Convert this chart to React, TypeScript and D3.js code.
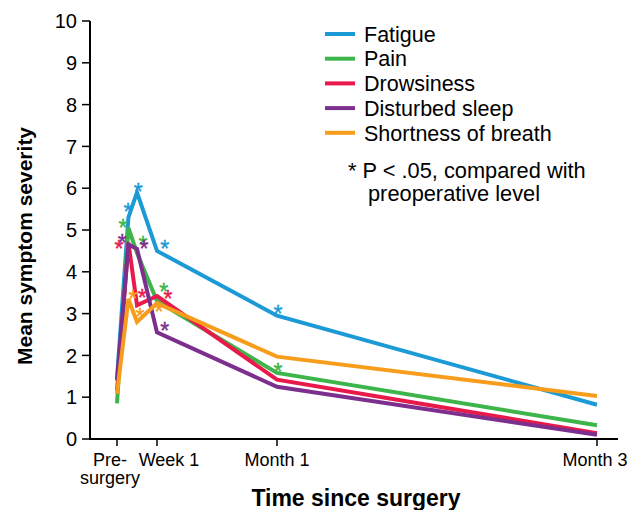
import React from 'react';
import * as d3 from 'd3';

// time in days since surgery (pre-surgery = 0)
const days = [0, 2, 3.5, 7, 30, 90];
const tickDays = [0, 7, 30, 90];
const tickLabels = [['Pre-', 'surgery'], ['Week 1'], ['Month 1'], ['Month 3']];

const seriesNames = ['Fatigue', 'Pain', 'Drowsiness', 'Disturbed sleep', 'Shortness of breath'];
const seriesColors = ['#1b9ad6', '#3db54a', '#e8194b', '#7d2f8e', '#f89c1c'];

const fatigue = [1.45, 5.3, 5.9, 4.5, 2.95, 0.82];
const pain = [0.85, 5.05, 4.45, 3.3, 1.58, 0.33];
const drowsiness = [1.15, 4.7, 3.2, 3.42, 1.42, 0.14];
const disturbedSleep = [1.4, 4.65, 4.55, 2.55, 1.25, 0.1];
const shortnessOfBreath = [1.08, 3.35, 2.8, 3.25, 1.97, 1.03];

const allSeries = [fatigue, pain, drowsiness, disturbedSleep, shortnessOfBreath];

// significance markers: [series index, day, value]
const stars: [number, number, number][] = [
  [0, 1.9, 5.55], [0, 3.7, 6.03], [0, 8.5, 4.67], [0, 30.2, 3.11],
  [1, 1.05, 5.17], [1, 4.55, 4.76], [1, 8.3, 3.64], [1, 30.2, 1.72],
  [2, 0.35, 4.67], [2, 4.4, 3.49], [2, 9.1, 3.47],
  [3, 0.9, 4.81], [3, 4.7, 4.67], [3, 8.5, 2.7],
  [4, 2.8, 3.47], [4, 4.0, 3.04], [4, 7.4, 3.16],
];

const yTicks = d3.range(0, 11);

export default function App() {
  const width = 627;
  const height = 510;
  const left = 90;
  const top = 21;
  const bottom = 439;
  const right = 618;

  const x = d3.scaleLinear().domain(tickDays).range([117, 157, 277, 597]);
  const y = d3.scaleLinear().domain([0, 10]).range([bottom, top]);

  const line = d3.line<number>()
    .x((_, i) => x(days[i]))
    .y(d => y(d));

  const font = 'Liberation Sans, Arial, Helvetica, sans-serif';
  // label shifts so that the crowded early labels don't collide
  const labelShift = [-7, 12, 0, -2];

  return (
    <svg width={width} height={height} style={{ position: 'absolute', left: 0, top: 0 }} fontFamily={font}>
      <rect width={width} height={height} fill="#fff" />
      {/* y axis */}
      <line x1={left} x2={left} y1={top} y2={bottom} stroke="#000" strokeWidth={2} />
      {yTicks.map(t => (
        <g key={t}>
          <line x1={left - 8} x2={left} y1={y(t)} y2={y(t)} stroke="#000" strokeWidth={1.5} />
          <text x={77} y={y(t)} dy="0.36em" textAnchor="end" fontSize={20}>{t}</text>
        </g>
      ))}
      {/* x axis */}
      <line x1={left - 1} x2={right} y1={bottom} y2={bottom} stroke="#000" strokeWidth={2} />
      {tickDays.map((d, i) => (
        <g key={d}>
          <line x1={x(d)} x2={x(d)} y1={bottom} y2={bottom + 7} stroke="#000" strokeWidth={1.5} />
          {tickLabels[i].map((s, j) => (
            <text key={j} x={x(d) + labelShift[i]} y={466 + j * 18} textAnchor="middle" fontSize={18}>{s}</text>
          ))}
        </g>
      ))}
      <text x={356} y={506} textAnchor="middle" fontSize={23} fontWeight="bold">Time since surgery</text>
      <text transform={`translate(32,246) rotate(-90)`} textAnchor="middle" fontSize={21} fontWeight="bold">Mean symptom severity</text>

      {/* series */}
      {allSeries.map((s, i) => (
        <path key={i} d={line(s) || ''} fill="none" stroke={seriesColors[i]} strokeWidth={4} strokeLinejoin="miter" />
      ))}
      {stars.map(([si, d, v], i) => (
        <text key={i} x={x(d)} y={y(v) + 13} textAnchor="middle" fontSize={23} fill={seriesColors[si]}
          stroke={seriesColors[si]} strokeWidth={0.4}>*</text>
      ))}

      {/* legend */}
      {seriesNames.map((n, i) => (
        <g key={n} transform={`translate(325,${34 + i * 24.7})`}>
          <line x1={0} x2={30} y1={0} y2={0} stroke={seriesColors[i]} strokeWidth={4} />
          <text x={39} y={0} dy="0.36em" fontSize={21.5}>{n}</text>
        </g>
      ))}
      <text x={348} y={178} fontSize={21.8}>* P &lt; .05, compared with</text>
      <text x={368} y={201} fontSize={21.8}>preoperative level</text>
    </svg>
  );
}
